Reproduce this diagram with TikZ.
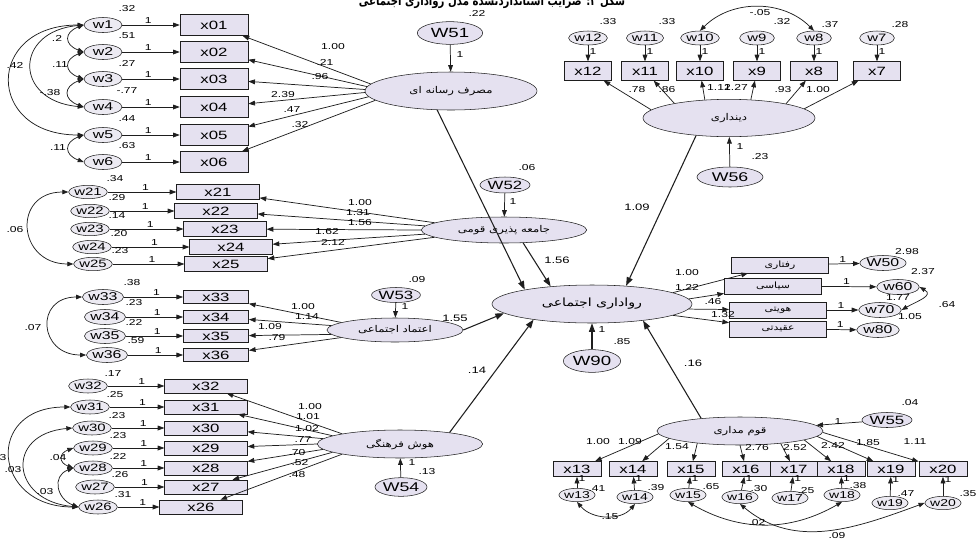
\documentclass[tikz,border=0pt]{standalone}
\usepackage{fontspec}
\setmainfont{Liberation Sans}[FakeStretch=1.4]
\newfontfamily\fa{DejaVu Sans}[Script=Arabic,FakeStretch=1.25]
\newfontfamily\fatitle{DejaVu Sans}[Script=Arabic,FakeStretch=0.8]
\TeXXeTstate=1
\usetikzlibrary{arrows.meta,shapes.geometric}
\definecolor{lav}{RGB}{229,225,240}
\definecolor{errfill}{RGB}{236,234,242}
\definecolor{ink}{RGB}{30,30,30}

\begin{document}
\begin{tikzpicture}[x=0.75pt,y=-0.75pt,
    obs/.style={draw=ink,fill=lav,inner sep=0pt,font=\fontsize{9}{10}\selectfont},
    err/.style={ellipse,draw=ink,fill=errfill,inner sep=0pt,font=\fontsize{8.5}{9}\selectfont},
    lat/.style={ellipse,draw=ink,fill=lav,inner sep=0pt,font=\fa\fontsize{7}{8}\selectfont},
    dnode/.style={ellipse,draw=ink,fill=lav,inner sep=0pt,font=\fontsize{10}{11}\selectfont},
    lab/.style={inner sep=0pt,font=\fontsize{6.5}{7}\selectfont},
    arr/.style={draw=ink,line width=.55pt,-{Triangle[length=5pt,width=3.6pt]}},
    reg/.style={draw=ink,line width=.8pt,-{Triangle[length=6.5pt,width=4.6pt]}},
    cov/.style={draw=ink,line width=.55pt,{Triangle[length=4.5pt,width=3.4pt]}-{Triangle[length=4.5pt,width=3.4pt]}}]

  \useasboundingbox (0,0) rectangle (976,540);

  \node[font=\fatitle\bfseries\fontsize{9.5}{10}\selectfont,inner sep=0pt] (title) at (492,2) {\beginR شکل ۲: ضرایب استانداردنشده مدل رواداری اجتماعی\endR};

  % latent variables
  \node[lat,minimum width=129pt,minimum height=28.5pt] (media)  at (451,91)  {\beginR مصرف رسانه ای\endR};
  \node[lat,minimum width=129pt,minimum height=28pt]   (relig)  at (729,118) {\beginR دینداری\endR};
  \node[lat,minimum width=124pt,minimum height=19.5pt] (social) at (504,230) {\beginR جامعه پذیری قومی\endR};
  \node[lat,minimum width=102pt,minimum height=18pt]   (trust)  at (395,330) {\beginR اعتماد اجتماعی\endR};
  \node[lat,minimum width=124pt,minimum height=21pt]   (cult)   at (400,444) {\beginR هوش فرهنگی\endR};
  \node[lat,minimum width=124.5pt,minimum height=21pt] (ethno)  at (740,431) {\beginR قوم مداری\endR};
  \node[lat,minimum width=150pt,minimum height=28.5pt,font=\fa\fontsize{8.5}{9}\selectfont] (toler) at (592,304) {\beginR رواداری اجتماعی\endR};

  % disturbances
  \node[dnode,minimum width=49pt,minimum height=17pt] (w51) at (450,33) {W51};
  \node[dnode,minimum width=37.5pt,minimum height=12pt,font=\fontsize{9}{10}\selectfont] (w52) at (505,185) {W52};
  \node[dnode,minimum width=31.5pt,minimum height=11.25pt,font=\fontsize{9}{10}\selectfont] (w53) at (396,295) {W53};
  \node[dnode,minimum width=39pt,minimum height=14pt,font=\fontsize{9.5}{10}\selectfont] (w54) at (401,487) {W54};
  \node[dnode,minimum width=37.5pt,minimum height=11.25pt,font=\fontsize{9}{10}\selectfont] (w55) at (887,420) {W55};
  \node[dnode,minimum width=49.5pt,minimum height=15pt,font=\fontsize{9.5}{10}\selectfont] (w56) at (730,177) {W56};
  \node[dnode,minimum width=43pt,minimum height=17pt] (w90) at (592,361) {W90};

  \draw[arr] (w51) -- (media);
  \draw[arr] (w52) -- (social);
  \draw[arr] (w53) -- (trust);
  \draw[arr] (w54) -- (cult);
  \draw[arr] (w55) -- (ethno);
  \draw[arr] (w56) -- (relig);
  \draw[reg] (w90) -- (toler);
  \foreach \t/\lx/\ly [count=\i] in {.22/477/13,1/460/55,.06/527/168,1/513/202,.09/417/280,1/405/307,.13/427/472,1/412/463,.04/910/403,1/838/422,.23/760/157,1/740/147,.85/622/342,1/602/330}
    \node[lab] (d\i) at (\lx,\ly) {\t};

  % structural paths
  \draw[reg] (media.-126) -- (toler.168);
  \draw[reg] (relig.208) -- (toler.28);
  \draw[reg] (social.-34) -- (toler.157);
  \draw[reg] (trust.east) -- (toler.186);
  \draw[reg] (cult.13) -- (toler.195);
  \draw[reg] (ethno.162) -- (toler.-18);
  \foreach \t/\lx/\ly [count=\i] in {1.09/637/207,1.56/557/260,1.55/455/318,.14/477/370,.16/693/363}
    \node[lab,font=\fontsize{7}{8}\selectfont] (p\i) at (\lx,\ly) {\t};

  % media consumption
  \foreach \n/\y/\v/\a in {1/25/.32/175,2/52/.51/177,3/79/.27/179,4/107/-.77/181,5/135/.44/184,6/162/.63/187}{
    \node[err,minimum width=28.5pt,minimum height=11.25pt] (w\n) at (103,\y) {w\n};
    \node[obs,minimum width=51pt,minimum height=15.75pt] (x0\n) at (214,\y) {x0\n};
    \node[lab] (vw\n) at (127,\y-16) {\v};
    \draw[arr] (w\n) -- node[lab,above=1pt,pos=.45] (ow\n) {1} (x0\n);
    \draw[arr] (media.\a) -- (x0\n);
  }
  \foreach \t/\lx/\ly [count=\i] in {1.00/333/47,.21/325/62,.96/320/77,2.39/283/95,.47/292/110,.32/300/125}
    \node[lab] (lm\i) at (\lx,\ly) {\t};
  \draw[cov] (w1.west) to[out=200,in=160,looseness=2] (w2.west);
  \draw[cov] (w2.west) to[out=200,in=160,looseness=2] (w3.west);
  \draw[cov] (w3.west) to[out=200,in=160,looseness=2] (w4.west);
  \draw[cov] (w5.west) to[out=200,in=160,looseness=2] (w6.west);
  \draw[cov] (w1.west) to[out=185,in=175,looseness=2.2] (w4.west);
  \draw[cov] (w1.west) to[out=180,in=180,looseness=2.3] (w5.west);
  \foreach \t/\lx/\ly [count=\i] in {.2/57/38,.11/60/65,-.38/50/93,.11/58/148,.42/15/65}
    \node[lab] (cm\i) at (\lx,\ly) {\t};

  % religiosity
  \foreach \n/\x/\a in {12/588/174,11/645/165,10/700/143,9/757/40,8/814/14,7/877/7}{
    \node[err,minimum width=26pt,minimum height=10.5pt,font=\fontsize{8}{9}\selectfont] (w\n) at (\x,38) {w\n};
    \node[obs,minimum width=35pt,minimum height=14pt] (x\n) at (\x,71) {x\n};
    \draw[arr] (w\n) -- node[lab,right=1pt,pos=.4] (ow\n) {1} (x\n);
    \draw[arr] (relig.\a) -- (x\n);
  }
  \draw[cov] (w10.north) to[out=45,in=135] (w8.north);
  \foreach \t/\lx/\ly [count=\i] in {.33/608/22,.33/667/22,.32/782/22,.37/830/25,.28/900/25,-.05/760/13,.78/637/90,.86/667/90,1.12/719/87,1.27/736/87,.93/783/90,1.00/818/90}
    \node[lab] (lr\i) at (\lx,\ly) {\t};

  % ethnic socialization
  \foreach \n/\y/\wx/\bx/\v/\a in {21/192/88/218/.34/174,22/211/90/216/.29/177,23/229/90/225/.14/180,24/247/92/231/.20/183,25/264/93/226/.23/186}{
    \node[err,minimum width=21pt,minimum height=10pt,font=\fontsize{8}{9}\selectfont] (w\n) at (\wx,\y) {w\n};
    \node[obs,minimum width=62pt,minimum height=11.25pt] (x\n) at (\bx,\y) {x\n};
    \node[lab] (vw\n) at (\wx+27,\y-13) {\v};
    \draw[arr] (w\n) -- node[lab,above=1pt,pos=.55] (ow\n) {1} (x\n);
    \draw[arr] (social.\a) -- (x\n);
  }
  \draw[cov] (w21.west) to[out=180,in=180,looseness=2] (w25.west);
  \foreach \t/\lx/\ly [count=\i] in {.06/15/230,1.00/360/203,1.31/358/213,1.56/360/223,1.62/327/232,2.12/333/242}
    \node[lab] (ls\i) at (\lx,\ly) {\t};

  % social trust
  \foreach \n/\y/\wx/\v/\a in {33/297/103/.38/172,34/317/105/.23/176,35/336/105/.22/184,36/355/107/.59/188}{
    \node[err,minimum width=28.5pt,minimum height=11.25pt] (w\n) at (\wx,\y) {w\n};
    \node[obs,minimum width=49pt,minimum height=10pt] (x\n) at (216,\y) {x\n};
    \node[lab] (vw\n) at (\wx+29,\y-14) {\v};
    \draw[arr] (w\n) -- node[lab,above=1pt,pos=.55] (ow\n) {1} (x\n);
    \draw[arr] (trust.\a) -- (x\n);
  }
  \draw[cov] (w33.west) to[out=180,in=180,looseness=2.1] (w36.west);
  \foreach \t/\lx/\ly [count=\i] in {.07/33/328,1.00/303/307,1.14/307/317,1.09/270/327,.79/277/338}
    \node[lab] (lt\i) at (\lx,\ly) {\t};

  % cultural intelligence
  \foreach \n/\y/\wx/\bx/\v/\a in {32/386/88/206/.17/170,31/407/90/206/.25/173,30/428/92/206/.23/176,29/448/93/206/.23/180,28/468/93/206/.22/184,27/487/95/206/.26/187,26/507/98/201/.31/190}{
    \node[err,minimum width=22.5pt,minimum height=10.5pt,font=\fontsize{8}{9}\selectfont] (w\n) at (\wx,\y) {w\n};
    \node[obs,minimum width=62pt,minimum height=10.5pt] (x\n) at (\bx,\y) {x\n};
    \node[lab] (vw\n) at (\wx+25,\y-12) {\v};
    \draw[arr] (w\n) -- node[lab,above=1pt,pos=.6] (ow\n) {1} (x\n);
    \draw[arr] (cult.\a) -- (x\n);
  }
  \draw[cov] (w26.west) to[out=180,in=180,looseness=2.2] (w31.west);
  \draw[cov] (w26.west) to[out=175,in=185,looseness=2.2] (w30.west);
  \draw[cov] (w29.west) to[out=200,in=160,looseness=2] (w28.west);
  \draw[cov] (w26.west) to[out=160,in=200,looseness=1.5] (w28.west);
  \foreach \t/\lx/\ly [count=\i] in {.03/-2/458,.03/13/470,.04/58/458,.03/45/492,1.00/310/407,1.01/308/417,1.02/307/429,.77/303/440,.70/297/453,.52/300/463,.48/297/475}
    \node[lab] (lc\i) at (\lx,\ly) {\t};

  % ethnocentrism
  \foreach \n/\bx/\wx/\wy/\a/\v/\vx/\vy in {13/577/577/495/182/.41/597/489,14/633/635/497/186/.39/656/488,15/691/688/495/196/.65/711/487,16/746/740/497/270/.30/759/489,17/794/790/498/-17/.25/806/491,18/841/842/495/-8/.38/858/486,19/891/890/503/-4/.47/906/494,20/943/943/503/-1/.35/968/494}{
    \node[obs,minimum width=36pt,minimum height=11.25pt] (x\n) at (\bx,469) {x\n};
    \node[err,minimum width=22.5pt,minimum height=10pt,font=\fontsize{7.5}{8}\selectfont] (w\n) at (\wx,\wy) {w\n};
    \node[lab] (vw\n) at (\vx,\vy) {\v};
    \draw[arr] (w\n) -- node[lab,right=1pt,pos=.85] (ow\n) {1} (x\n);
    \draw[arr] (ethno.\a) -- (x\n);
  }
  \draw[cov] (w13.south) to[out=-50,in=-130] (w14.south);
  \draw[cov] (w15.south) to[out=-30,in=-150] (w18.south);
  \draw[cov] (w16.south) to[out=-40,in=-160] (w20.west);
  \foreach \t/\lx/\ly [count=\i] in {.15/610/517,.02/757/523,.09/837/536,1.00/598/442,1.09/630/442,1.54/677/447,2.76/757/448,2.52/795/448,2.42/833/445,1.85/868/443,1.11/915/442}
    \node[lab] (le\i) at (\lx,\ly) {\t};

  % tolerance indicators
  \foreach \n/\by/\bx/\t/\e/\ex/\ey/\a in {1/265/780/رفتاری/W50/883/263/8,2/286/773/سیاسی/w60/898/287/3,3/310/778/هویتی/w70/880/310/-3,4/329/778/عقیدتی/w80/878/330/-8}{
    \node[obs,minimum width=73pt,minimum height=12pt,font=\fa\fontsize{6.5}{7}\selectfont] (r\n) at (\bx,\by) {\beginR\t\endR};
    \node[err,minimum width=32pt,minimum height=11.25pt] (e\n) at (\ex,\ey) {\e};
    \draw[arr] (r\n) -- node[lab,above=1pt,pos=.45] (or\n) {1} (e\n);
    \draw[arr] (toler.\a) -- (r\n);
  }
  \draw[cov] (e2.east) to[out=-30,in=30,looseness=1.5] (e3.east);
  \foreach \t/\lx/\ly [count=\i] in {2.98/907/252,2.37/923/272,1.77/898/298,1.05/910/317,.64/947/305,1.00/687/273,1.22/687/287,.46/713/302,1.32/723/315}
    \node[lab] (li\i) at (\lx,\ly) {\t};

\end{tikzpicture}
\end{document}
